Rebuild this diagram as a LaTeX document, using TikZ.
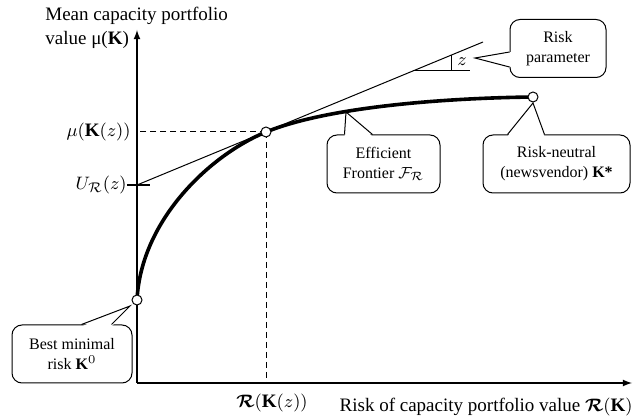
\documentclass[tikz,border=0pt]{standalone}
\usepackage{amsmath}
\usepackage{bm}
\usepackage{fontspec}
\setmainfont{Liberation Serif}
\usetikzlibrary{arrows}
\usetikzlibrary{positioning}
\usetikzlibrary{calc}

\begin{document}
\begin{tikzpicture}
  [x=0.5pt, y=-0.5pt,
  axis/.style={line width=0.6pt},
  frontier/.style={line width=1.8pt},
  guide/.style={line width=0.5pt, dash pattern=on 3pt off 2pt},
  dot/.style={shape=circle, draw, fill=white, line width=0.5pt,
         inner sep=0pt, minimum size=5pt},
  callbox/.style={draw, fill=white, rounded corners=5pt, line width=0.5pt,
         align=center, inner sep=2pt, minimum height=29pt,
         font=\fontsize{8}{10}\selectfont},
  callline/.style={line width=0.5pt},
  big/.style={font=\fontsize{9.5}{12}\selectfont, inner sep=0pt}
  ]
  \useasboundingbox (0,0) rectangle (639,417);

  \coordinate (o) at (137,383);
  \coordinate (ytop) at (137,30);
  \coordinate (xend) at (632,383);
  \coordinate (p0) at (137,300);
  \coordinate (pz) at (266,132);
  \coordinate (pstar) at (533,97);
  \coordinate (uz) at (137,185);
  \coordinate (tend) at (483,42);

  % axes
  \draw [axis, -latex] (o) -- (ytop);
  \draw [axis, -latex] (o) -- (xend);

  \node (ylab) [big, anchor=west, align=left] at (45,28)
     {Mean capacity portfolio\\value μ(\textbf{K})};
  \node (xlab) [big, anchor=east] at (633,407)
     {Risk of capacity portfolio value $\bm{\mathcal{R}}(\mathbf{K})$};
  \node (mulab) [big, anchor=east] at (131,132) {$\mu(\mathbf{K}(z))$};
  \node (ulab) [big, anchor=east] at (127,185) {$U_{\mathcal{R}}(z)$};
  \node (rlab) [big] at (272,403) {$\bm{\mathcal{R}}(\mathbf{K}(z))$};

  % tangent line and angle z
  \coordinate (utick) at (150,185);
  \draw [axis] (ulab.east) -- (utick);
  \draw [line width=0.5pt] (uz) -- (tend);
  \coordinate (a1) at (413,71);
  \coordinate (a2) at (470,71);
  \coordinate (a3) at (451,55.3);
  \draw [line width=0.5pt] (a1) -- (a2);
  \draw [line width=0.5pt] (a3) -- (a3 |- a1);
  \node (zlab) [big] at (462,62) {$z$};

  % dashed guides
  \draw [guide] (pz) -- (pz -| o);
  \draw [guide] (pz) -- (pz |- o);

  % efficient frontier
  \draw [frontier] (p0) .. controls (141,220) and (210,155) .. (pz)
     .. controls (330,106) and (450,98) .. (pstar);
  \node (k0) [dot] at (p0) {};
  \node (kz) [dot] at (pz) {};
  \node (kstar) [dot] at (pstar) {};

  % callouts
  \node (rpbox) [callbox, minimum width=48pt] at (558,48.5) {Risk\\parameter};
  \node (efbox) [callbox, minimum width=56.5pt] at (383.5,164)
     {Efficient\\Frontier $\mathcal{F}_{\mathcal{R}}$};
  \node (rnbox) [callbox, minimum width=73.5pt] at (556.5,164)
     {Risk-neutral\\(newsvendor) \textbf{K*}};
  \node (bmbox) [callbox, minimum width=60pt] at (72,354)
     {Best minimal\\risk \textbf{K}$^0$};

  \coordinate (rptip) at (475,58);
  \coordinate (eftip) at (346,112);
  \coordinate (rntip) at (533,103);
  \coordinate (bmtip) at (130,306);

  \coordinate (rp1) at ($(rpbox.north west)+(0,33)$);
  \coordinate (rp2) at ($(rpbox.north west)+(0,48)$);
  \coordinate (ef1) at ($(efbox.north west)+(18,0)$);
  \coordinate (ef2) at ($(efbox.north west)+(46,0)$);
  \coordinate (rn1) at ($(rnbox.north west)+(25,0)$);
  \coordinate (rn2) at ($(rnbox.north west)+(62,0)$);
  \coordinate (bm1) at ($(bmbox.north west)+(70,0)$);
  \coordinate (bm2) at ($(bmbox.north west)+(100,0)$);

  \fill [white] ([xshift=1pt]rp1) -- (rptip) -- ([xshift=1pt]rp2) -- cycle;
  \draw [callline] (rp1) -- (rptip) -- (rp2);
  \fill [white] ([yshift=-1pt]ef1) -- (eftip) -- ([yshift=-1pt]ef2) -- cycle;
  \draw [callline] (ef1) -- (eftip) -- (ef2);
  \fill [white] ([yshift=-1pt]rn1) -- (rntip) -- ([yshift=-1pt]rn2) -- cycle;
  \draw [callline] (rn1) -- (rntip) -- (rn2);
  \fill [white] ([yshift=-1pt]bm1) -- (bmtip) -- ([yshift=-1pt]bm2) -- cycle;
  \draw [callline] (bm1) -- (bmtip) -- (bm2);

\end{tikzpicture}
\end{document}
